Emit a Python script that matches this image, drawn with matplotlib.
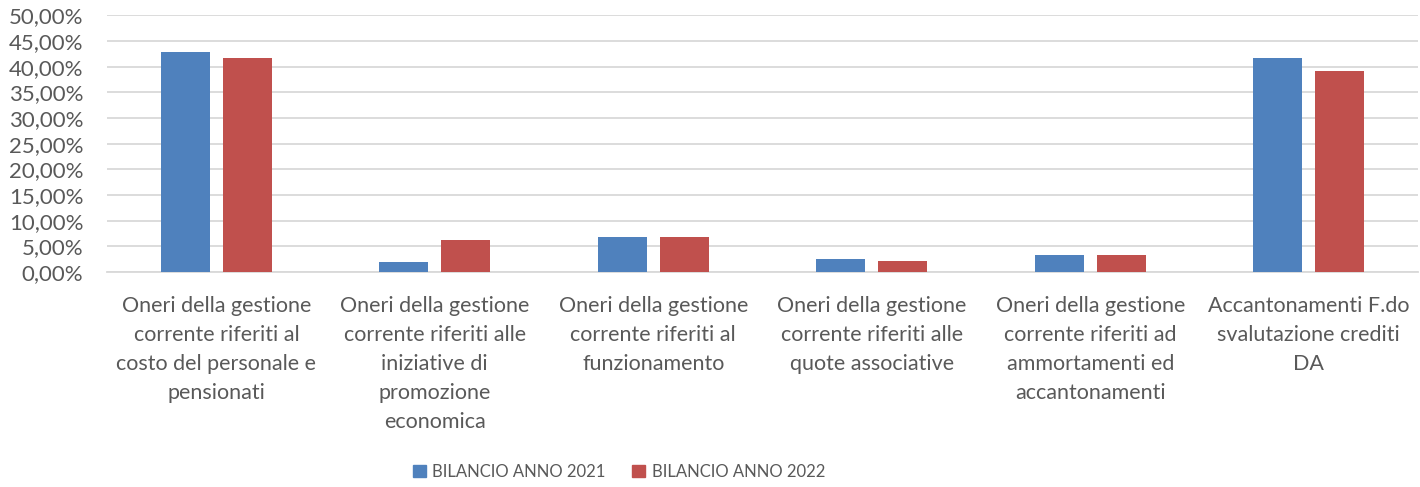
import matplotlib
matplotlib.use('Agg')
import matplotlib.pyplot as plt
import numpy as np
from matplotlib.patches import Patch

# Data (percent)
categories = [
    "Oneri della gestione\ncorrente riferiti al\ncosto del personale e\npensionati",
    "Oneri della gestione\ncorrente riferiti alle\niniziative di\npromozione\neconomica",
    "Oneri della gestione\ncorrente riferiti al\nfunzionamento",
    "Oneri della gestione\ncorrente riferiti alle\nquote associative",
    "Oneri della gestione\ncorrente riferiti ad\nammortamenti ed\naccantonamenti",
    "Accantonamenti F.do\nsvalutazione crediti\nDA",
]
series_names = ["BILANCIO ANNO 2021", "BILANCIO ANNO 2022"]
values_2021 = [42.9, 2.0, 6.8, 2.5, 3.4, 41.7]
values_2022 = [41.8, 6.2, 6.8, 2.1, 3.25, 39.1]
y_ticks = [0, 5, 10, 15, 20, 25, 30, 35, 40, 45, 50]

blue = '#4f81bd'
red = '#c0504d'
text_col = '#595959'
grid_col = '#d9d9d9'

plt.rcParams['font.family'] = ['Lato', 'DejaVu Sans']

fig = plt.figure(figsize=(14.2, 4.87), dpi=100)
ax = fig.add_axes([0.0754, 0.4415, 0.9232, 0.5267])

x = np.arange(len(categories))
w = 0.224
off = 0.142
ax.bar(x - off, values_2021, w, color=blue, zorder=3)
ax.bar(x + off, values_2022, w, color=red, zorder=3)

ax.set_xlim(-0.5, len(categories) - 0.5)
ax.set_ylim(0, 50)
ax.set_yticks(y_ticks)
ax.set_yticklabels([f"{t:.2f}".replace('.', ',') + "%" for t in y_ticks])
ax.grid(axis='y', color=grid_col, linewidth=1.3, zorder=0)
for s in ['top', 'right', 'left']:
    ax.spines[s].set_visible(False)
ax.spines['bottom'].set_color(grid_col)
ax.spines['bottom'].set_linewidth(1.3)
ax.tick_params(axis='y', length=0, pad=17, labelsize=16, labelcolor=text_col)
ax.set_xticks(x)
ax.set_xticklabels(categories, linespacing=1.56)
ax.tick_params(axis='x', length=0, pad=17.5, labelsize=15.5, labelcolor=text_col)

handles = [Patch(color=blue), Patch(color=red)]
fig.legend(handles, series_names, loc='center', bbox_to_anchor=(0.436, 0.031),
           ncol=2, frameon=False, fontsize=12, labelcolor=text_col,
           handlelength=0.75, handleheight=0.75, handletextpad=0.4, columnspacing=1.6)

fig.savefig('out.png', dpi=100)
